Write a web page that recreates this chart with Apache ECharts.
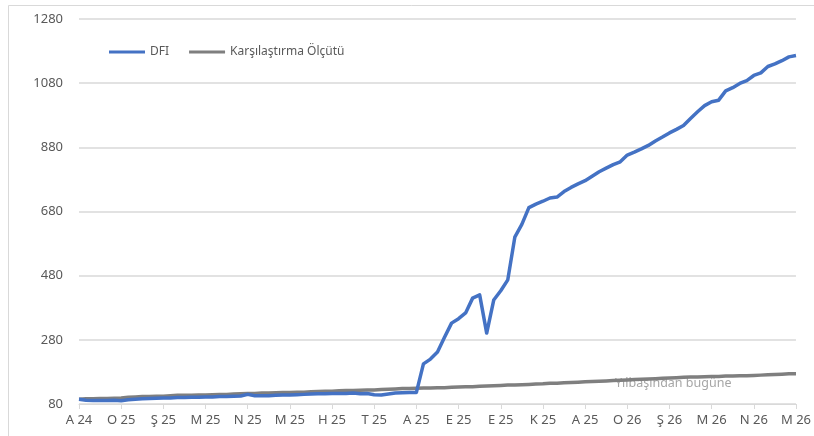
<!DOCTYPE html>
<html>
<head>
<meta charset="utf-8">
<script src="https://cdn.jsdelivr.net/npm/echarts@6/dist/echarts.min.js"></script>
<style>
  html, body { margin: 0; padding: 0; background: #fff; }
  #chart { width: 814px; height: 436px; }
</style>
</head>
<body>
<div id="chart"></div>
<script>
  // x axis: one label every 6 points
  var tickLabels = ['A 24', 'O 25', 'Ş 25', 'M 25', 'N 25', 'M 25', 'H 25', 'T 25', 'A 25',
    'E 25', 'E 25', 'K 25', 'A 25', 'O 26', 'Ş 26', 'M 26', 'N 26', 'M 26'];
  var STEP = 6;

  var dfi = [
    95, 92, 91, 91, 91, 92, 90, 93, 95, 96, 97, 98, 99, 99, 100, 100, 101, 101,
    102, 102, 103, 103, 104, 105, 110, 106, 106, 106, 107, 108, 108, 109, 110, 111,
    112, 112, 113, 113, 113, 114, 112, 113, 109, 108, 111, 114, 115, 116, 116,
    205, 220, 242, 288, 332, 346, 364, 410, 420, 301, 404, 433, 467, 600, 640, 692,
    703, 712, 722, 725, 742, 755, 766, 776, 790, 804, 815, 826, 835, 856, 865, 875,
    886, 900, 912, 925, 936, 948, 970, 991, 1010, 1022, 1027, 1056, 1066, 1079, 1088,
    1104, 1112, 1132, 1140, 1150, 1162, 1166
  ];

  var benchmark = [
    95, 96, 96, 97, 97, 98, 99, 101, 102, 103, 103, 104, 104, 106, 107, 107, 107, 108,
    108, 109, 110, 110, 111, 112, 113, 113, 114, 114, 115, 116, 116, 117, 117, 118,
    119, 120, 120, 121, 122, 122, 123, 124, 124, 125, 126, 127, 128, 128, 129,
    130, 130, 131, 131, 132, 133, 134, 134, 135, 136, 137, 138, 139, 139, 140, 141,
    142, 143, 145, 145, 146, 147, 148, 149, 150, 151, 152, 153, 154, 155, 156, 157,
    158, 159, 160, 161, 162, 163, 164, 164, 165, 166, 166, 167, 167, 168, 168,
    169, 170, 171, 172, 173, 174, 174
  ];

  var categories = dfi.map(function (v, i) { return String(i); });

  var labelColor = '#595959';
  var gridColor = '#d9d9d9';
  var font = 'Noto Sans';

  var chart = echarts.init(document.getElementById('chart'));

  chart.setOption({
    backgroundColor: '#fff',
    animation: false,
    grid: { left: 79, right: 17, top: 19, bottom: 32 },
    legend: {
      left: 104,
      top: 41,
      itemWidth: 36,
      itemHeight: 3,
      itemGap: 20,
      icon: 'rect',
      textStyle: { color: labelColor, fontSize: 12, fontFamily: font },
      data: ['DFI', 'Karşılaştırma Ölçütü']
    },
    graphic: [
      {
        type: 'rect',
        silent: true,
        z: -10,
        shape: { x: 8.5, y: 5.5, width: 820, height: 440 },
        style: { fill: 'none', stroke: gridColor, lineWidth: 1 }
      },
      {
        type: 'text',
        silent: true,
        z: 0,
        left: 615,
        top: 377,
        style: { text: 'Yılbaşından bugüne', fill: '#a6a6a6', fontSize: 12.5, fontFamily: font }
      }
    ],
    xAxis: {
      type: 'category',
      data: categories,
      boundaryGap: false,
      axisLine: { lineStyle: { color: gridColor, width: 1 } },
      axisTick: {
        interval: STEP - 1,
        length: 5,
        lineStyle: { color: gridColor }
      },
      axisLabel: {
        interval: STEP - 1,
        color: labelColor,
        fontSize: 13,
        fontFamily: font,
        margin: 10,
        formatter: function (v) {
          return tickLabels[Number(v) / STEP] || '';
        }
      },
      splitLine: { show: false }
    },
    yAxis: {
      type: 'value',
      min: 80,
      max: 1280,
      interval: 200,
      axisLine: { show: false },
      axisTick: { show: false },
      axisLabel: {
        color: labelColor,
        fontSize: 13,
        fontFamily: font,
        margin: 16,
        formatter: function (v) { return String(v); }
      },
      splitLine: { lineStyle: { color: gridColor, width: 1.5 } }
    },
    series: [
      {
        name: 'DFI',
        type: 'line',
        data: dfi,
        showSymbol: false,
        symbol: 'none',
        z: 3,
        itemStyle: { color: '#4472c4' },
        lineStyle: { color: '#4472c4', width: 3.5, join: 'round' }
      },
      {
        name: 'Karşılaştırma Ölçütü',
        type: 'line',
        data: benchmark,
        showSymbol: false,
        symbol: 'none',
        z: 2,
        itemStyle: { color: '#7f7f7f' },
        lineStyle: { color: '#7f7f7f', width: 3.5, join: 'round' }
      }
    ]
  });
</script>
</body>
</html>
